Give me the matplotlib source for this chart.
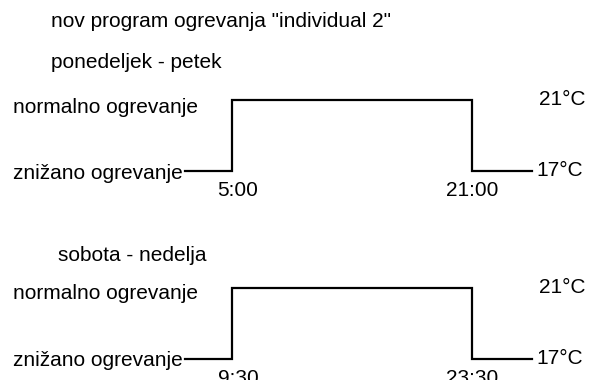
import matplotlib.pyplot as plt

plt.rcParams['font.family'] = ['Liberation Sans', 'DejaVu Sans']

# Heating program data
title = 'nov program ogrevanja "individual 2"'
day_groups = ["ponedeljek - petek", "sobota - nedelja"]
switch_times = [["5:00", "21:00"], ["9:30", "23:30"]]
temp_low = 17
temp_high = 21
level_names = ["normalno ogrevanje", "znižano ogrevanje"]

# Schematic x layout (pixels across the figure), same for both panels
x_edges = [185, 232, 472, 532]

fig = plt.figure(figsize=(5.89, 3.80), dpi=100)

fig.text(51 / 589, 1 - 27 / 380, title, fontsize=15, va="baseline")

# panel layout: axes bottom, group label x/baseline, offsets for level names
panels = [
    {"bottom": 1 - 171 / 380, "label_x": 51, "label_y": 68, "norm_off": -13, "low_off": -8},
    {"bottom": 1 - 359 / 380, "label_x": 58, "label_y": 261, "norm_off": -11, "low_off": -7},
]
height = 71 / 380

for i, p in enumerate(panels):
    ax = fig.add_axes([0, p["bottom"], 1, height])
    ax.set_xlim(0, 589)
    ax.set_ylim(temp_low, temp_high)
    ax.axis("off")

    levels = [temp_low, temp_high, temp_low, temp_low]
    ax.step(x_edges, levels, where="post", color="black", lw=1.6,
            solid_joinstyle="miter", clip_on=False)

    fig.text(p["label_x"] / 589, 1 - p["label_y"] / 380, day_groups[i],
             fontsize=15, va="baseline")

    ax.annotate(level_names[0], (13, temp_high), xytext=(0, p["norm_off"]),
                textcoords="offset pixels", fontsize=15, va="baseline",
                ha="left", annotation_clip=False)
    ax.annotate(level_names[1], (183, temp_low), xytext=(0, p["low_off"]),
                textcoords="offset pixels", fontsize=15, va="baseline",
                ha="right", annotation_clip=False)

    ax.annotate(f"{temp_high}°C", (539, temp_high), xytext=(0, -5),
                textcoords="offset pixels", fontsize=15, va="baseline",
                ha="left", annotation_clip=False)
    ax.annotate(f"{temp_low}°C", (536, temp_low), xytext=(0, -5),
                textcoords="offset pixels", fontsize=15, va="baseline",
                ha="left", annotation_clip=False)

    # switching times below the low line
    for x, t, dx in zip(x_edges[1:3], switch_times[i], [6, 0]):
        ax.annotate(t, (x, temp_low), xytext=(dx, -25),
                    textcoords="offset pixels", fontsize=15, va="baseline",
                    ha="center", annotation_clip=False)

fig.savefig("out.png", dpi=100)
